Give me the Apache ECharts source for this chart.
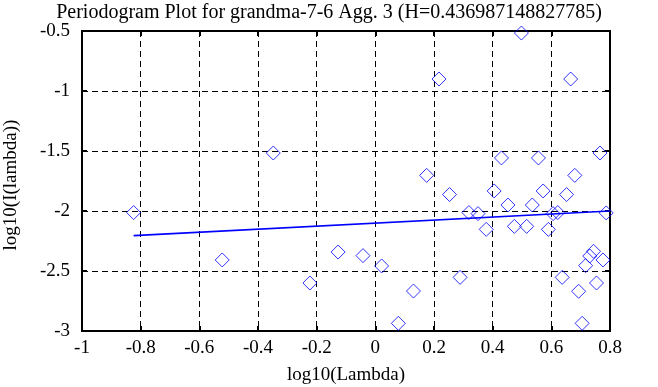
<!DOCTYPE html>
<html><head><meta charset="utf-8">
<script src="https://cdn.jsdelivr.net/npm/echarts@6/dist/echarts.min.js"></script>
<style>html,body{margin:0;padding:0;background:#fff}#c{width:658px;height:387px}</style>
</head><body><div id="c"></div>
<script>
var titleText = 'Periodogram Plot for grandma-7-6 Agg. 3 (H=0.436987148827785)';
var xName = 'log10(Lambda)';
var yName = 'log10(I(lambda))';
var xs = [-0.824,-0.522,-0.348,-0.223,-0.127,-0.042,0.0215,0.0785,0.130,0.175,0.217,0.253,0.289,0.319,0.350,0.378,0.405,0.430,0.452,0.474,0.498,0.516,0.535,0.556,0.572,0.590,0.606,0.622,0.637,0.652,0.666,0.680,0.693,0.705,0.717,0.731,0.744,0.754,0.766,0.776,0.787];
var ys = [-2.013,-2.408,-1.517,-2.600,-2.342,-2.372,-2.458,-2.936,-2.667,-1.703,-0.900,-1.863,-2.553,-2.013,-2.022,-2.153,-1.833,-1.558,-1.950,-2.128,-0.517,-2.128,-1.950,-1.558,-1.833,-2.153,-2.022,-2.013,-2.553,-1.863,-0.900,-1.703,-2.669,-2.936,-2.455,-2.375,-2.336,-2.600,-1.517,-2.408,-2.016];
var fitX = [-0.824, 0.8];
var fitY = [-2.205, -2.0];

var pts = xs.map(function(x,i){return [x, ys[i]];});
var fit = fitX.map(function(x,i){return [x, fitY[i]];});
var font = 'Liberation Serif';
var fs = 19;
var chart = echarts.init(document.getElementById('c'), null, {renderer:'canvas'});
var tickStyle = {show:true, inside:true, length:5, lineStyle:{color:'#000', width:2}};
chart.setOption({
  animation:false,
  backgroundColor:'#fff',
  title:{text:titleText, left:'center', top:-2, textStyle:{fontFamily:font, fontSize:20, fontWeight:'normal', color:'#000'}},
  grid:{left:82, top:31, right:48, bottom:56, show:true, borderColor:'#000', borderWidth:2, backgroundColor:'transparent'},
  xAxis:[{type:'value', min:-1, max:0.8, interval:0.2, position:'bottom',
    axisLine:{show:true, onZero:false, lineStyle:{color:'#000', width:2}},
    axisTick:tickStyle,
    axisLabel:{fontFamily:font, fontSize:fs, color:'#000', margin:8, formatter:function(v){return String(Math.round(v*10)/10);}},
    splitLine:{show:true, lineStyle:{color:'#000', width:1, type:[6,4]}}},
   {type:'value', min:-1, max:0.8, interval:0.2, position:'top',
    axisLine:{show:false, onZero:false}, axisTick:tickStyle, axisLabel:{show:false}, splitLine:{show:false}}],
  yAxis:[{type:'value', min:-3, max:-0.5, interval:0.5, position:'left',
    axisLine:{show:true, onZero:false, lineStyle:{color:'#000', width:2}},
    axisTick:tickStyle,
    axisLabel:{fontFamily:font, fontSize:fs, color:'#000', margin:12},
    splitLine:{show:true, lineStyle:{color:'#000', width:1, type:[6,4]}}},
   {type:'value', min:-3, max:-0.5, interval:0.5, position:'right',
    axisLine:{show:false, onZero:false}, axisTick:tickStyle, axisLabel:{show:false}, splitLine:{show:false}}],
  graphic:[
    {type:'text', x:346, y:375, style:{text:xName, font:fs+'px "Liberation Serif"', fill:'#000', align:'center', verticalAlign:'middle'}},
    {type:'text', x:2, y:185, rotation:Math.PI/2, style:{text:yName, font:fs+'px "Liberation Serif"', fill:'#000', align:'center', verticalAlign:'top'}}
  ],
  series:[
    {type:'line', data:fit, symbol:'none', lineStyle:{color:'#0000ff', width:1.6}, z:3},
    {type:'scatter', data:pts, symbol:'diamond', symbolSize:14, clip:false,
     itemStyle:{color:'rgba(0,0,0,0)', borderColor:'#0000ff', borderWidth:1}, z:4}
  ]
});
</script></body></html>
